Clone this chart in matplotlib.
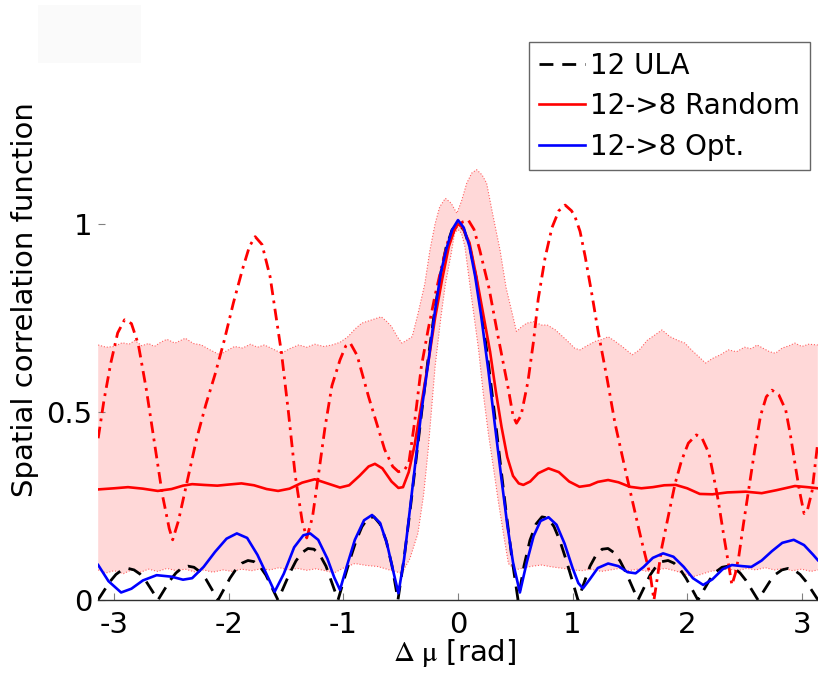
import matplotlib
matplotlib.use("Agg")
import matplotlib.pyplot as plt
from matplotlib.patches import Rectangle
import numpy as np

plt.rcParams["font.family"] = ["DejaVu Sans"]
plt.rcParams["mathtext.fontset"] = "stix"

# 12-element uniform linear array
ula_x = [-3.142, -3.037, -2.985, -2.932, -2.880, -2.827, -2.775, -2.723, -2.618,
         -2.513, -2.461, -2.409, -2.356, -2.304, -2.251, -2.199, -2.094,
         -1.990, -1.937, -1.885, -1.833, -1.780, -1.728, -1.676, -1.571,
         -1.466, -1.414, -1.361, -1.309, -1.257, -1.204, -1.152, -1.047,
         -0.995, -0.942, -0.890, -0.838, -0.785, -0.733, -0.681, -0.628, -0.576, -0.524,
         -0.471, -0.419, -0.367, -0.314, -0.262, -0.209, -0.157, -0.105, -0.052,
         0.000,
         0.052, 0.105, 0.157, 0.209, 0.262, 0.314, 0.367, 0.419, 0.471,
         0.524, 0.576, 0.628, 0.681, 0.733, 0.785, 0.838, 0.890, 0.942, 0.995,
         1.047, 1.152, 1.204, 1.257, 1.309, 1.361, 1.414, 1.466,
         1.571, 1.676, 1.728, 1.780, 1.833, 1.885, 1.937, 1.990,
         2.094, 2.199, 2.251, 2.304, 2.356, 2.409, 2.461, 2.513,
         2.618, 2.723, 2.775, 2.827, 2.880, 2.932, 2.985, 3.037, 3.142]
ula_y = [0.000, 0.049, 0.068, 0.080, 0.084, 0.080, 0.069, 0.050, 0.000,
         0.052, 0.072, 0.085, 0.090, 0.087, 0.075, 0.055, 0.000,
         0.058, 0.082, 0.098, 0.105, 0.102, 0.089, 0.066, 0.000,
         0.073, 0.104, 0.126, 0.137, 0.135, 0.119, 0.090, 0.000,
         0.054, 0.108, 0.157, 0.195, 0.218, 0.221, 0.202, 0.159, 0.091, 0.000,
         0.110, 0.236, 0.370, 0.507, 0.638, 0.758, 0.859, 0.936, 0.984,
         1.000,
         0.984, 0.936, 0.859, 0.758, 0.638, 0.507, 0.370, 0.236, 0.110,
         0.000, 0.091, 0.159, 0.202, 0.221, 0.218, 0.195, 0.157, 0.108, 0.054,
         0.000, 0.090, 0.119, 0.135, 0.137, 0.126, 0.104, 0.073,
         0.000, 0.066, 0.089, 0.102, 0.105, 0.098, 0.082, 0.058,
         0.000, 0.055, 0.075, 0.087, 0.090, 0.085, 0.072, 0.052,
         0.000, 0.050, 0.069, 0.080, 0.084, 0.080, 0.068, 0.049, 0.000]

# 12 -> 8 random selection: average
rnd_x = [-3.14, -3.00, -2.88, -2.75, -2.62, -2.50, -2.40, -2.32, -2.22, -2.10,
         -2.00, -1.89, -1.78, -1.67, -1.57, -1.47, -1.36, -1.25, -1.14, -1.03,
         -0.95, -0.86, -0.78, -0.725, -0.66, -0.58, -0.52, -0.48, -0.43, -0.38,
         -0.32, -0.26, -0.20, -0.14, -0.08, -0.03, 0.00, 0.04, 0.10, 0.16,
         0.22, 0.28, 0.33, 0.38, 0.43, 0.48, 0.53, 0.57, 0.63, 0.70,
         0.79, 0.88, 0.97, 1.06, 1.15, 1.22, 1.31, 1.40, 1.50, 1.60,
         1.70, 1.80, 1.90, 2.00, 2.11, 2.22, 2.35, 2.51, 2.65, 2.78,
         2.94, 3.05, 3.14]
rnd_y = [0.294, 0.297, 0.300, 0.296, 0.290, 0.295, 0.304, 0.308, 0.306, 0.304,
         0.307, 0.310, 0.305, 0.295, 0.290, 0.296, 0.312, 0.321, 0.310, 0.299,
         0.305, 0.330, 0.355, 0.362, 0.350, 0.315, 0.298, 0.300, 0.340, 0.410,
         0.520, 0.630, 0.750, 0.850, 0.940, 0.985, 1.000, 0.990, 0.950, 0.860,
         0.760, 0.660, 0.555, 0.460, 0.380, 0.330, 0.310, 0.306, 0.315, 0.337,
         0.350, 0.340, 0.315, 0.301, 0.305, 0.314, 0.319, 0.313, 0.301, 0.297,
         0.300, 0.305, 0.306, 0.297, 0.282, 0.281, 0.286, 0.288, 0.284, 0.292,
         0.303, 0.300, 0.297]

# 12 -> 8 random selection: one realisation
one_x = [-3.14, -3.09, -3.03, -2.97, -2.91, -2.85, -2.79, -2.72, -2.65, -2.58,
         -2.52, -2.49, -2.44, -2.36, -2.28, -2.20, -2.12, -2.04, -1.96, -1.88,
         -1.82, -1.77, -1.71, -1.64, -1.54, -1.48, -1.42, -1.36, -1.32, -1.27,
         -1.22, -1.16, -1.10, -1.03, -0.98, -0.94, -0.88, -0.78, -0.71, -0.64,
         -0.57, -0.52, -0.47, -0.43, -0.38, -0.32, -0.26, -0.20, -0.14, -0.085,
         -0.02, 0.04, 0.09, 0.14, 0.19, 0.27, 0.35, 0.44, 0.48, 0.51,
         0.55, 0.61, 0.66, 0.70, 0.76, 0.82, 0.88, 0.935, 0.99, 1.02,
         1.065, 1.11, 1.17, 1.225, 1.30, 1.37, 1.45, 1.52, 1.60, 1.68,
         1.71, 1.74, 1.78, 1.84, 1.895, 1.95, 2.01, 2.08, 2.13, 2.19,
         2.23, 2.27, 2.32, 2.36, 2.39, 2.42, 2.45, 2.49, 2.535, 2.59,
         2.64, 2.69, 2.74, 2.80, 2.86, 2.90, 2.94, 2.98, 3.02, 3.05,
         3.09, 3.14]
one_y = [0.43, 0.53, 0.63, 0.71, 0.745, 0.735, 0.68, 0.56, 0.42, 0.28,
         0.19, 0.16, 0.21, 0.32, 0.43, 0.52, 0.60, 0.69, 0.79, 0.88,
         0.940, 0.966, 0.945, 0.86, 0.656, 0.50, 0.33, 0.21, 0.165, 0.22,
         0.328, 0.46, 0.57, 0.638, 0.675, 0.683, 0.65, 0.54, 0.47, 0.40,
         0.355, 0.341, 0.345, 0.363, 0.47, 0.62, 0.72, 0.81, 0.89, 0.957,
         0.99, 1.005, 1.01, 0.985, 0.93, 0.83, 0.70, 0.56, 0.49, 0.47,
         0.49, 0.58, 0.69, 0.80, 0.91, 0.99, 1.035, 1.05, 1.035, 1.02,
         0.98, 0.913, 0.81, 0.71, 0.59, 0.47, 0.36, 0.266, 0.16, 0.062,
         0.0, 0.06, 0.142, 0.23, 0.31, 0.37, 0.417, 0.439, 0.43, 0.39,
         0.33, 0.266, 0.17, 0.097, 0.04, 0.07, 0.115, 0.20, 0.29, 0.40,
         0.49, 0.54, 0.558, 0.545, 0.505, 0.44, 0.364, 0.29, 0.23, 0.24,
         0.29, 0.42]

# 12 -> 8 optimised selection
opt_x = [-3.14, -3.05, -2.94, -2.85, -2.75, -2.63, -2.50, -2.40, -2.32, -2.22,
         -2.12, -2.02, -1.93, -1.84, -1.75, -1.67, -1.60, -1.52, -1.43, -1.35,
         -1.29, -1.22, -1.14, -1.08, -1.03, -0.97, -0.90, -0.82, -0.75, -0.68,
         -0.62, -0.56, -0.52, -0.47, -0.42, -0.37, -0.32, -0.26, -0.20, -0.15,
         -0.10, -0.05, 0.00, 0.05, 0.10, 0.15, 0.20, 0.265, 0.32, 0.38,
         0.43, 0.48, 0.54, 0.60, 0.66, 0.72, 0.79, 0.86, 0.93, 1.00,
         1.05, 1.09, 1.15, 1.22, 1.31, 1.40, 1.48, 1.55, 1.62, 1.70,
         1.79, 1.88, 1.97, 2.05, 2.14, 2.22, 2.31, 2.39, 2.48, 2.56,
         2.65, 2.74, 2.83, 2.93, 3.02, 3.10, 3.14]
opt_y = [0.093, 0.050, 0.020, 0.030, 0.052, 0.066, 0.062, 0.054, 0.058, 0.088,
         0.128, 0.163, 0.177, 0.165, 0.120, 0.068, 0.022, 0.070, 0.140, 0.172,
         0.177, 0.160, 0.110, 0.060, 0.027, 0.090, 0.160, 0.212, 0.226, 0.205,
         0.150, 0.070, 0.018, 0.110, 0.240, 0.370, 0.500, 0.630, 0.770, 0.870,
         0.935, 0.985, 1.010, 0.990, 0.940, 0.860, 0.760, 0.610, 0.470, 0.320,
         0.200, 0.100, 0.020, 0.100, 0.170, 0.210, 0.220, 0.200, 0.150, 0.085,
         0.045, 0.031, 0.055, 0.085, 0.097, 0.090, 0.074, 0.071, 0.088, 0.112,
         0.124, 0.115, 0.088, 0.058, 0.040, 0.055, 0.082, 0.093, 0.090, 0.088,
         0.105, 0.130, 0.152, 0.160, 0.146, 0.120, 0.106]

# spread of the random selections (upper / lower edge)
band_hi_x = [-3.14, -3.07, -3.00, -2.93, -2.87, -2.82, -2.76, -2.70, -2.65, -2.59,
             -2.54, -2.47, -2.42, -2.38, -2.31, -2.24, -2.17, -2.08, -2.01, -1.95,
             -1.88, -1.81, -1.75, -1.69, -1.62, -1.54, -1.47, -1.39, -1.32, -1.25,
             -1.17, -1.10, -1.03, -0.96, -0.90, -0.84, -0.78, -0.72, -0.67, -0.62,
             -0.58, -0.53, -0.49, -0.45, -0.40, -0.35, -0.29, -0.245, -0.20, -0.16,
             -0.11, -0.06, -0.01, 0.03, 0.076, 0.12, 0.163, 0.21, 0.25, 0.30,
             0.367, 0.42, 0.48, 0.51, 0.55, 0.60, 0.66, 0.73, 0.78, 0.85,
             0.95, 1.02, 1.065, 1.12, 1.20, 1.26, 1.31, 1.37, 1.44, 1.52,
             1.58, 1.65, 1.72, 1.78, 1.85, 1.92, 1.98, 2.04, 2.09, 2.16,
             2.22, 2.29, 2.36, 2.43, 2.50, 2.56, 2.61, 2.67, 2.72, 2.77,
             2.83, 2.89, 2.94, 3.00, 3.06, 3.14]
band_hi_y = [0.678, 0.672, 0.674, 0.684, 0.680, 0.690, 0.676, 0.682, 0.674, 0.686,
             0.693, 0.683, 0.690, 0.696, 0.682, 0.678, 0.666, 0.652, 0.664, 0.674,
             0.670, 0.680, 0.672, 0.678, 0.668, 0.656, 0.668, 0.678, 0.672, 0.680,
             0.674, 0.678, 0.685, 0.700, 0.720, 0.736, 0.742, 0.748, 0.753, 0.740,
             0.727, 0.700, 0.683, 0.690, 0.700, 0.760, 0.840, 0.930, 1.000, 1.045,
             1.068, 1.055, 1.028, 1.060, 1.108, 1.135, 1.144, 1.130, 1.108, 1.030,
             0.930, 0.830, 0.753, 0.714, 0.725, 0.736, 0.740, 0.731, 0.731, 0.718,
             0.690, 0.669, 0.665, 0.675, 0.688, 0.693, 0.700, 0.688, 0.672, 0.652,
             0.664, 0.690, 0.705, 0.718, 0.700, 0.690, 0.683, 0.664, 0.650, 0.630,
             0.642, 0.652, 0.665, 0.660, 0.672, 0.668, 0.678, 0.668, 0.660, 0.656,
             0.670, 0.676, 0.683, 0.674, 0.680, 0.678]
band_lo_x = [-3.14, -3.07, -3.00, -2.92, -2.85, -2.77, -2.70, -2.62, -2.54, -2.46,
             -2.38, -2.30, -2.22, -2.14, -2.05, -1.97, -1.89, -1.80, -1.72, -1.64,
             -1.56, -1.48, -1.40, -1.32, -1.24, -1.16, -1.08, -1.00, -0.90, -0.80,
             -0.70, -0.60, -0.49, -0.42, -0.35, -0.30, -0.26, -0.20, -0.15, -0.11,
             -0.06, -0.03, 0.00, 0.03, 0.06, 0.12, 0.18, 0.22, 0.265, 0.31,
             0.35, 0.40, 0.44, 0.50, 0.58, 0.65, 0.73, 0.82, 0.92, 1.00,
             1.08, 1.16, 1.25, 1.33, 1.41, 1.49, 1.57, 1.65, 1.73, 1.81,
             1.89, 1.97, 2.05, 2.12, 2.20, 2.28, 2.36, 2.44, 2.52, 2.60,
             2.68, 2.76, 2.84, 2.92, 3.00, 3.08, 3.14]
band_lo_y = [0.080, 0.072, 0.078, 0.070, 0.080, 0.074, 0.082, 0.076, 0.084, 0.078,
             0.082, 0.075, 0.080, 0.074, 0.080, 0.076, 0.082, 0.078, 0.083, 0.080,
             0.086, 0.080, 0.084, 0.079, 0.083, 0.078, 0.072, 0.085, 0.097, 0.092,
             0.089, 0.080, 0.071, 0.110, 0.177, 0.280, 0.400, 0.620, 0.750, 0.840,
             0.920, 0.975, 0.985, 0.975, 0.940, 0.800, 0.665, 0.550, 0.443, 0.350,
             0.266, 0.170, 0.097, 0.080, 0.086, 0.090, 0.093, 0.088, 0.084, 0.080,
             0.078, 0.082, 0.076, 0.080, 0.084, 0.078, 0.082, 0.076, 0.080, 0.084,
             0.078, 0.070, 0.062, 0.068, 0.076, 0.080, 0.082, 0.078, 0.084, 0.080,
             0.086, 0.080, 0.084, 0.078, 0.082, 0.076, 0.080]

fig = plt.figure(figsize=(8.18, 6.73), dpi=100)
ax = fig.add_axes([98 / 818, 73 / 673, 720 / 818, 583 / 673])

# shaded spread with dotted edges
ax.fill(band_hi_x + band_lo_x[::-1], band_hi_y + band_lo_y[::-1],
        color="#ffd8d8", lw=0, zorder=1)
ax.plot(band_hi_x, band_hi_y, ls=":", color="#ff6060", lw=0.8, zorder=2)
ax.plot(band_lo_x, band_lo_y, ls=":", color="#ff6060", lw=0.8, zorder=2)

ula, = ax.plot(ula_x, ula_y, color="black", lw=2.0, dashes=(5.0, 3.2),
               label="12 ULA", zorder=3)
ax.plot(one_x, one_y, color="red", lw=2.0, dashes=(4.2, 2.0, 1.0, 2.0), zorder=4)
rnd, = ax.plot(rnd_x, rnd_y, color="red", lw=1.9, label="12->8 Random", zorder=5)
opt, = ax.plot(opt_x, opt_y, color="blue", lw=1.9, label="12->8 Opt.", zorder=6)

ax.set_xlim(-np.pi, np.pi)
ax.set_ylim(0, 1.55)
ax.set_xticks([-3, -2, -1, 0, 1, 2, 3])
ax.set_xticklabels(["-3", "-2", "-1", "0", "1", "2", "3"])
ax.set_yticks([0, 0.5, 1])
ax.set_yticklabels(["0", "0.5", "1"])
ax.tick_params(axis="both", direction="in", length=5, width=0.8,
               color="#808080", labelsize=21)
ax.tick_params(axis="x", pad=8)
ax.tick_params(axis="y", pad=4)
for side in ["top", "right", "left"]:
    ax.spines[side].set_visible(False)
ax.spines["bottom"].set_color("#303030")
ax.spines["bottom"].set_linewidth(1.0)
ax.spines["bottom"].set_zorder(7)
ax.patch.set_alpha(0)

# axis titles
fig.text(455 / 818, 1 - 653 / 673, r"$\Delta\ \mathrm{\mu}$ [rad]",
         fontsize=21, ha="center", va="center")
fig.text(25 / 818, 1 - 300 / 673, "Spatial correlation function",
         fontsize=21, rotation=90, ha="center", va="center")

leg = ax.legend(handles=[ula, rnd, opt], loc="upper right",
                bbox_to_anchor=(810 / 818, 1 - 42 / 673),
                bbox_transform=fig.transFigure, borderaxespad=0,
                fontsize=20, frameon=True, fancybox=False,
                handlelength=1.65, handletextpad=0.2, labelspacing=0.45,
                borderpad=0.35)
leg.get_frame().set_edgecolor("#404040")
leg.get_frame().set_linewidth(1.0)

# faint block in the top-left corner
fig.patches.append(Rectangle((38 / 818, 1 - 63 / 673), 103 / 818, 58 / 673,
                             transform=fig.transFigure, facecolor="#fafafa",
                             edgecolor="none"))

fig.savefig("out.png", dpi=100)
